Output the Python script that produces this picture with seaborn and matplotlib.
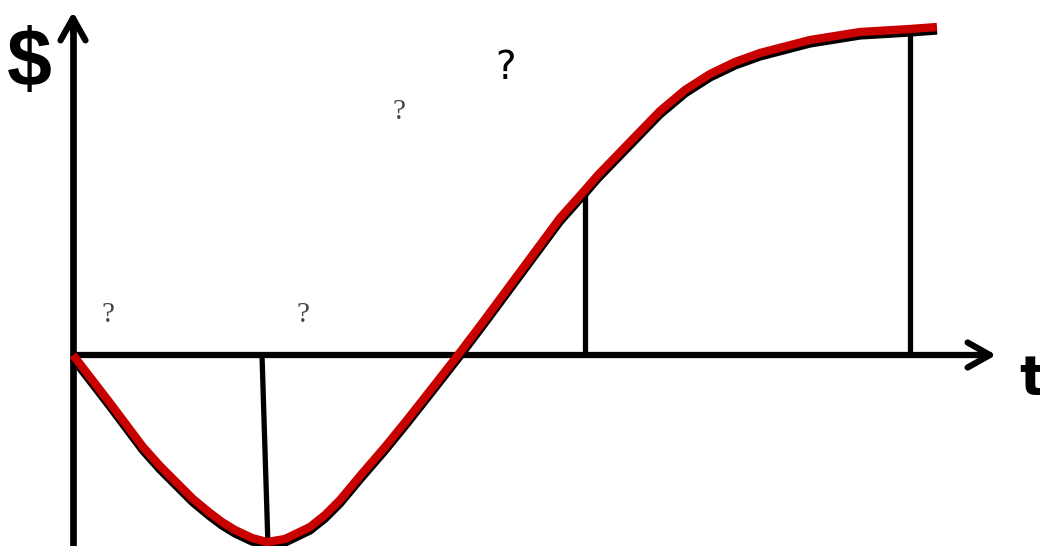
import numpy as np
import pandas as pd
import seaborn as sns
import matplotlib.pyplot as plt
import matplotlib.patheffects as pe

# curve (t along the axis, $ value up)
t_vals = [0.0, 0.17, 0.37, 0.52, 0.70, 0.87, 1.04, 1.20, 1.37, 1.49, 1.62, 1.79,
          1.94, 2.12, 2.37, 2.52, 2.67, 2.87, 3.12, 3.34, 3.60, 3.85, 4.10, 4.47,
          4.87, 5.12, 5.25, 5.54, 5.87, 6.12, 6.37, 6.62, 6.87, 7.37, 7.87, 8.37, 8.64]
money = [0.0, -0.22, -0.48, -0.68, -0.92, -1.11, -1.28, -1.44, -1.58, -1.67, -1.75, -1.83,
         -1.87, -1.84, -1.72, -1.60, -1.45, -1.21, -0.92, -0.65, -0.32, 0.0, 0.33, 0.83,
         1.37, 1.65, 1.80, 2.10, 2.44, 2.65, 2.81, 2.93, 3.02, 3.15, 3.23, 3.26, 3.28]

# drop lines from the curve to the t axis
mark_t = [5.12, 8.37]
mark_top = [1.65, 3.26]
# the one under the dip is drawn a little slanted
dip_t = [1.89, 1.95]
dip_y = [0.0, -1.91]

# small question marks
q_t = [0.35, 2.30, 3.26]
q_y = [0.40, 0.40, 2.43]

df = pd.DataFrame({'t': t_vals, 'money': money})

sns.set_style("white")
fig = plt.figure(figsize=(10.4, 5.46), dpi=100)
ax = fig.add_axes([0, 0, 1, 1])
ax.set_xlim(-0.73, 9.67)
ax.set_ylim(-1.91, 3.55)
ax.axis('off')

arrow = dict(arrowstyle='->, head_length=0.8, head_width=0.45',
             color='black', lw=4.5, mutation_scale=20)

# axes with arrow heads
ax.plot([0, 0], [-1.91, 3.3], color='black', lw=4.8, solid_capstyle='butt', zorder=2)
ax.annotate('', xy=(0, 3.46), xytext=(0, 3.2), arrowprops=arrow, zorder=2)
ax.plot([0, 9.1], [0, 0], color='black', lw=4.5, solid_capstyle='butt', zorder=2)
ax.annotate('', xy=(9.26, 0), xytext=(9.0, 0), arrowprops=arrow, zorder=2)

# vertical drop lines
ax.vlines(mark_t, 0, mark_top, color='black', lw=3.8, zorder=2)
ax.plot(dip_t, dip_y, color='black', lw=3.8, zorder=2)

# the red curve with a black shadow under it
sns.lineplot(data=df, x='t', y='money', ax=ax, color='#c80000', lw=6,
             sort=False, zorder=3,
             path_effects=[pe.SimpleLineShadow(offset=(0, -2.5), shadow_color='black', alpha=1),
                           pe.Normal()])
ln = ax.lines[-1]
ln.set_solid_capstyle('butt')
ln.set_solid_joinstyle('round')

# labels
ax.text(-0.44, 2.90, '$', fontsize=58, fontweight='bold', family='Liberation Sans',
        color='black', ha='center', va='center')
ax.text(9.6, -0.25, 't', fontsize=40, fontweight='bold', family='DejaVu Sans',
        color='black', ha='center', va='center')
for x, y in zip(q_t, q_y):
    ax.text(x, y, '?', fontsize=21, family='Liberation Serif', color='#444444',
            ha='center', va='center')
ax.text(4.33, 2.87, '?', fontsize=28, family='DejaVu Sans', color='black',
        ha='center', va='center')

fig.savefig('out.png', dpi=100)
